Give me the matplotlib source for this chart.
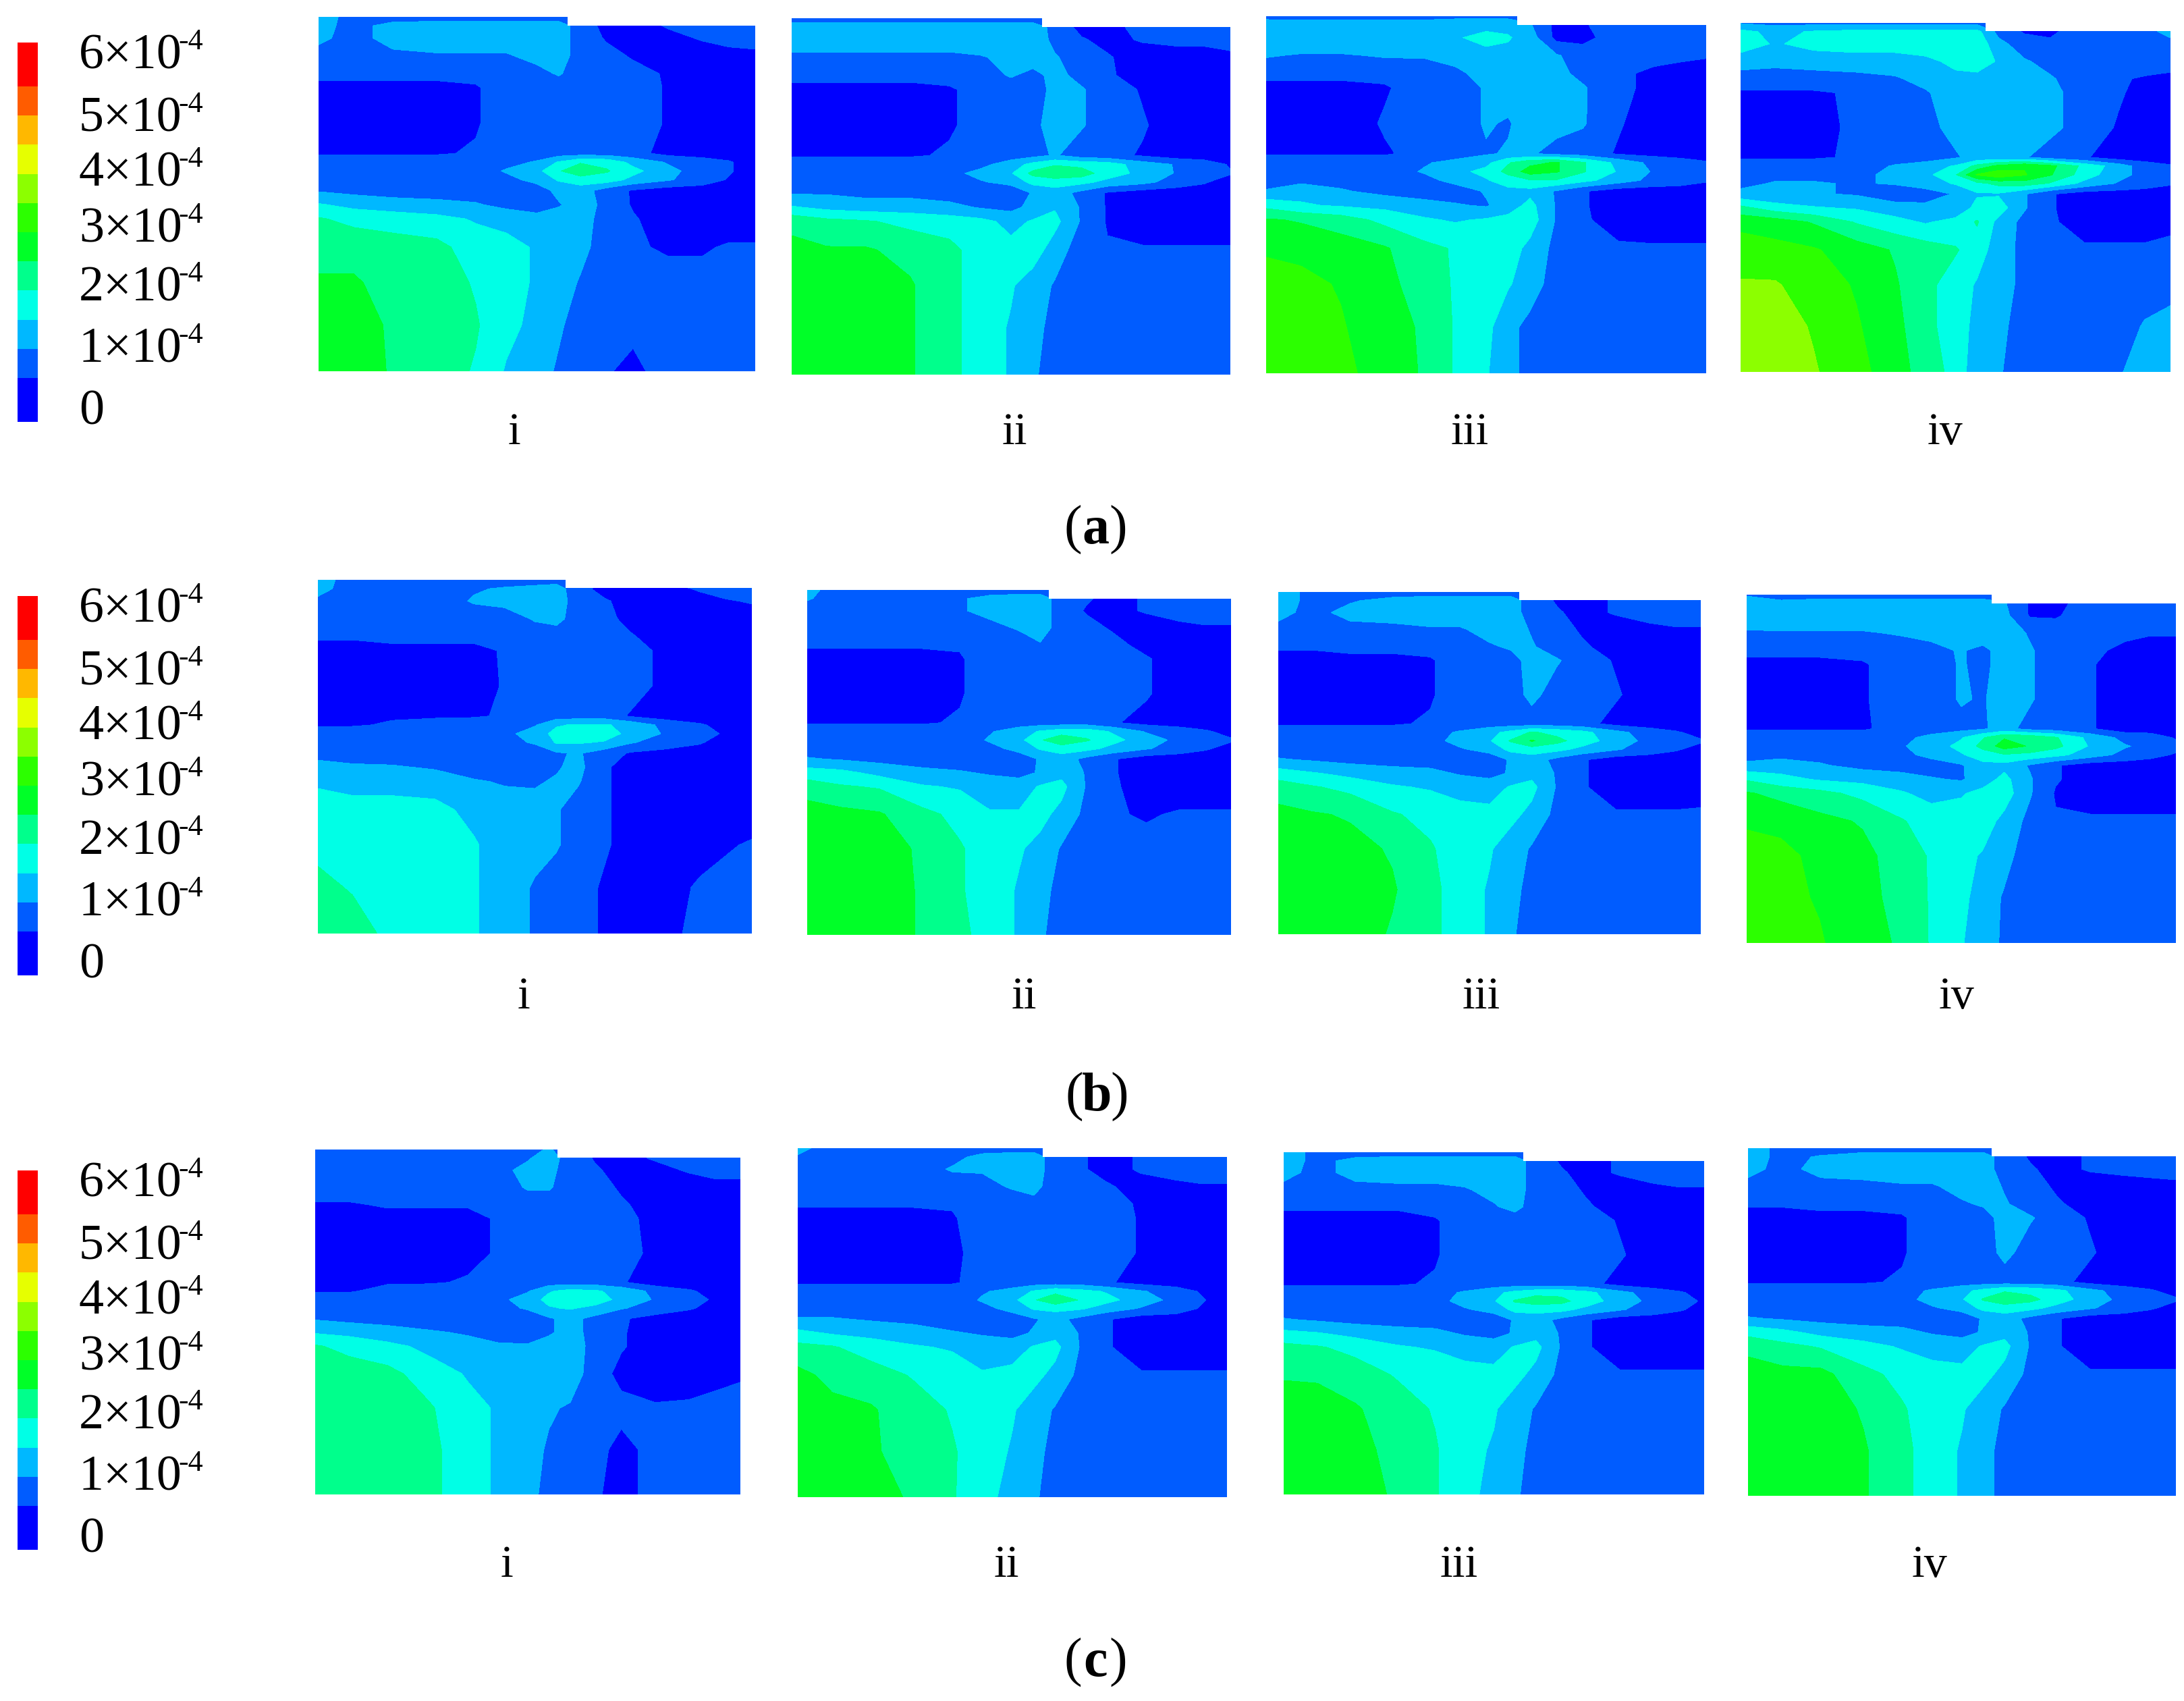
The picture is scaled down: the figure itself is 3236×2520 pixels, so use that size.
import numpy as np
import matplotlib
matplotlib.use("Agg")
import matplotlib.pyplot as plt
from matplotlib.patches import Polygon

plt.rcParams["font.family"] = ["Liberation Serif", "DejaVu Serif"]

W, H = 3237, 2520

# field values in units of 1e-5 at these node positions
X_NODES = [0, .08, .17, .27, .36, .43, .50, .55, .60, .66, .72, .80, .88, .94, 1.0]
Y_NODES = [0, .025, .06, .11, .16, .20, .30, .385, .41, .435, .46, .49, .53, .57, .65, .75, .87, 1.0]

LEVELS = [-5, 2.5, 7.5, 12.5, 17.5, 22.5, 27.5, 32.5, 37.5, 42.5, 47.5, 52.5, 60]
COLORS = ["#0000ff", "#005cff", "#00b8ff", "#00ffe6", "#00ff8c", "#00ff28",
          "#2cff00", "#8cff00", "#e6ff00", "#ffb800", "#ff5c00", "#ff0000"]
BAR_LABELS = ["0", "1", "2", "3", "4", "5", "6"]
PANEL_LABELS = ["i", "ii", "iii", "iv"]
ROW_LABELS = ["a", "b", "c"]

a_i = [
    [12, 4, 4, 4, 4, 4, 4, 5, 5, 1, 0, 2, 4, 5, 5],
    [10, 5, 10, 11, 11, 11, 11, 10, 5, 1, 0, 3, 5, 6, 6],
    [9, 5, 10, 10, 10, 10, 10, 10, 5, 2, 0, 1, 3, 5, 5],
    [5, 5, 6, 7, 7, 7, 9, 10, 5, 4, 2, 0, 0, 0, 1],
    [4, 4, 4, 4, 4, 5, 6, 8, 5, 5, 4, 2, 0, 0, 0],
    [1, 1, 1, 1, 2, 5, 5, 5, 5, 5, 5, 2, 0, 0, 0],
    [0, 0, 0, 0, 2, 5, 5, 6, 6, 6, 5, 2, 0, 0, 0],
    [2, 2, 2, 2, 3, 5, 5, 5, 5, 5, 4, 1, 0, 0, 0],
    [5, 5, 5, 5, 5, 6, 8, 13, 17, 16, 11, 7, 5, 3, 0],
    [5, 5, 5, 5, 5, 8, 11, 17, 21, 18, 14, 9, 5, 3, 0],
    [5, 5, 5, 5, 5, 6, 9, 13, 15, 15, 11, 8, 5, 2, 0],
    [7, 6, 5, 5, 5, 5, 5, 9, 10, 5, 2, 0, 0, 0, 0],
    [13, 11, 10, 9, 8, 6, 4, 7, 10, 6, 2, 0, 0, 0, 0],
    [18, 16, 15, 14, 12, 11, 10, 10, 10, 5, 3, 0, 0, 0, 0],
    [21, 21, 20, 19, 15, 14, 12, 10, 9, 5, 3, 2, 2, 3, 3],
    [23, 23, 21, 20, 17, 14, 12, 10, 7, 5, 4, 4, 4, 4, 4],
    [25, 24, 22, 20, 18, 14, 11, 8, 6, 5, 4, 4, 4, 4, 4],
    [26, 25, 22, 20, 17, 12, 9, 7, 5, 3, 1, 5, 5, 5, 5],
]
a_ii = [
    [6, 5, 5, 5, 5, 5, 5, 5, 5, 3, 1, 3, 4, 5, 5],
    [9, 10, 10, 10, 10, 10, 10, 10, 6, 1, 1, 4, 5, 5, 5],
    [11, 11, 11, 11, 11, 11, 11, 11, 6, 3, 1, 3, 4, 4, 5],
    [6, 6, 6, 6, 6, 7, 9, 10, 8, 5, 3, 0, 0, 0, 1],
    [4, 4, 4, 4, 4, 5, 8, 6, 9, 6, 3, 1, 0, 0, 0],
    [1, 1, 1, 1, 2, 4, 5, 5, 9, 8, 5, 2, 0, 0, 0],
    [0, 0, 0, 0, 2, 4, 5, 6, 10, 8, 5, 3, 0, 0, 0],
    [2, 2, 2, 2, 3, 5, 5, 6, 8, 5, 4, 2, 0, 0, 0],
    [5, 5, 5, 5, 5, 6, 10, 14, 17, 16, 15, 10, 7, 5, 2],
    [5, 5, 5, 5, 6, 9, 12, 19, 21, 20, 15, 11, 7, 5, 3],
    [5, 5, 5, 5, 5, 7, 9, 14, 15, 14, 11, 9, 5, 3, 0],
    [7, 7, 6, 6, 5, 4, 4, 8, 10, 6, 2, 0, 0, 0, 0],
    [13, 11, 10, 10, 9, 7, 6, 9, 12, 7, 2, 0, 0, 0, 0],
    [21, 19, 18, 16, 15, 14, 11, 13, 14, 7, 2, 0, 0, 0, 0],
    [24, 23, 23, 21, 19, 15, 14, 15, 10, 5, 3, 3, 3, 3, 3],
    [26, 26, 25, 23, 19, 15, 13, 10, 7, 5, 4, 4, 4, 4, 4],
    [27, 26, 25, 23, 19, 15, 12, 9, 6, 5, 5, 5, 5, 5, 5],
    [27, 26, 25, 23, 19, 15, 12, 8, 6, 5, 5, 5, 5, 5, 5],
]
a_iii = [
    [6, 5, 5, 5, 5, 6, 6, 6, 6, 4, 2, 5, 5, 5, 5],
    [10, 11, 11, 11, 11, 11, 11, 11, 8, 1, 2, 5, 5, 5, 5],
    [11, 12, 12, 12, 12, 12, 14, 13, 10, 1, 1, 5, 5, 5, 5],
    [8, 7, 7, 8, 8, 10, 11, 11, 10, 8, 5, 5, 5, 4, 3],
    [4, 4, 4, 4, 5, 6, 10, 11, 10, 9, 6, 4, 1, 0, 0],
    [1, 1, 1, 2, 5, 5, 8, 10, 10, 9, 8, 4, 1, 0, 0],
    [0, 0, 0, 3, 5, 5, 8, 7, 10, 9, 8, 3, 0, 0, 0],
    [2, 2, 2, 2, 4, 5, 7, 8, 8, 6, 5, 2, 1, 0, 0],
    [5, 5, 5, 5, 7, 9, 11, 17, 21, 23, 18, 11, 6, 5, 3],
    [5, 5, 5, 5, 8, 11, 14, 19, 25, 23, 18, 12, 7, 5, 4],
    [5, 6, 6, 5, 6, 9, 12, 15, 17, 17, 14, 10, 6, 5, 3],
    [8, 11, 8, 6, 4, 5, 8, 11, 11, 7, 3, 0, 0, 0, 0],
    [16, 13, 12, 11, 10, 8, 7, 10, 14, 7, 3, 0, 0, 0, 0],
    [23, 22, 20, 16, 13, 12, 13, 14, 15, 7, 3, 1, 0, 0, 0],
    [27, 26, 25, 23, 19, 17, 15, 15, 11, 6, 3, 3, 3, 3, 3],
    [29, 29, 27, 24, 20, 17, 14, 13, 10, 5, 4, 4, 4, 4, 4],
    [30, 29, 28, 24, 22, 17, 14, 9, 6, 5, 5, 5, 5, 5, 5],
    [31, 30, 29, 25, 22, 17, 13, 9, 6, 5, 5, 5, 5, 5, 5],
]
a_iv = [
    [7, 6, 6, 6, 6, 6, 6, 6, 6, 2, 2, 3, 4, 5, 6],
    [14, 11, 13, 14, 14, 14, 14, 14, 6, 2, 2, 4, 5, 6, 9],
    [15, 12, 14, 15, 15, 16, 17, 16, 9, 5, 3, 5, 5, 5, 6],
    [10, 9, 10, 10, 10, 11, 14, 15, 12, 8, 6, 5, 5, 5, 5],
    [5, 5, 5, 6, 7, 9, 11, 11, 10, 10, 8, 5, 3, 2, 1],
    [2, 2, 2, 3, 5, 7, 10, 10, 11, 10, 9, 5, 3, 1, 0],
    [0, 0, 0, 4, 5, 6, 9, 10, 10, 10, 9, 5, 2, 0, 0],
    [2, 2, 2, 3, 5, 5, 7, 9, 9, 8, 5, 3, 0, 0, 0],
    [5, 5, 5, 5, 8, 10, 13, 19, 24, 27, 24, 16, 10, 5, 3],
    [5, 6, 6, 6, 9, 11, 17, 28, 31, 28, 23, 15, 9, 6, 4],
    [6, 8, 8, 7, 8, 10, 13, 16, 19, 20, 17, 11, 7, 5, 3],
    [9, 8, 8, 7, 4, 5, 8, 12, 12, 8, 3, 0, 0, 0, 0],
    [19, 15, 13, 12, 10, 9, 9, 14, 15, 8, 3, 0, 0, 0, 0],
    [26, 25, 22, 17, 14, 12, 14, 18, 11, 6, 3, 1, 1, 1, 2],
    [30, 29, 28, 25, 22, 20, 18, 15, 10, 6, 4, 3, 3, 3, 3],
    [33, 33, 30, 27, 23, 19, 15, 12, 10, 6, 5, 5, 5, 5, 6],
    [36, 35, 32, 28, 24, 19, 15, 11, 9, 5, 5, 5, 5, 8, 9],
    [36, 35, 33, 29, 25, 20, 16, 9, 8, 5, 5, 5, 7, 10, 11],
]
b_i = [
    [10, 5, 5, 5, 5, 5, 5, 5, 4, 3, 3, 3, 3, 3, 3],
    [10, 4, 4, 5, 7, 8, 9, 10, 4, 1, 1, 1, 3, 5, 5],
    [6, 5, 5, 5, 8, 9, 10, 10, 5, 3, 1, 0, 1, 2, 3],
    [5, 5, 5, 5, 5, 5, 8, 9, 5, 4, 1, 0, 0, 0, 0],
    [3, 3, 4, 4, 4, 4, 5, 5, 5, 5, 3, 0, 0, 0, 0],
    [1, 1, 1, 1, 1, 3, 5, 5, 5, 5, 5, 1, 0, 0, 0],
    [0, 0, 0, 0, 0, 3, 5, 5, 5, 5, 5, 1, 0, 0, 0],
    [1, 1, 2, 2, 2, 3, 5, 5, 5, 5, 2, 0, 0, 0, 0],
    [2, 2, 3, 4, 5, 5, 7, 12, 13, 13, 11, 6, 3, 1, 0],
    [5, 5, 5, 5, 5, 6, 10, 14, 15, 15, 11, 7, 4, 2, 0],
    [5, 5, 5, 5, 5, 6, 8, 13, 13, 12, 8, 5, 3, 0, 0],
    [6, 6, 5, 5, 5, 5, 5, 7, 8, 5, 2, 1, 0, 0, 0],
    [9, 8, 8, 7, 5, 5, 5, 7, 9, 3, 1, 0, 0, 0, 0],
    [12, 11, 11, 10, 8, 7, 7, 8, 8, 3, 1, 0, 0, 0, 0],
    [14, 14, 14, 14, 11, 10, 9, 8, 5, 3, 1, 0, 0, 0, 0],
    [16, 15, 14, 14, 13, 10, 9, 8, 5, 3, 1, 0, 1, 2, 3],
    [19, 17, 15, 15, 13, 10, 7, 5, 4, 2, 1, 1, 3, 4, 5],
    [22, 20, 16, 15, 13, 10, 7, 5, 4, 2, 1, 1, 4, 5, 5],
]
b_ii = [
    [9, 5, 5, 5, 5, 5, 5, 5, 5, 3, 1, 2, 3, 4, 4],
    [8, 5, 5, 5, 7, 9, 10, 10, 5, 3, 1, 3, 5, 5, 5],
    [5, 5, 5, 5, 7, 9, 10, 10, 5, 2, 1, 3, 5, 5, 5],
    [5, 5, 5, 5, 5, 6, 8, 10, 5, 4, 2, 0, 1, 2, 2],
    [3, 3, 3, 3, 3, 5, 5, 7, 5, 5, 4, 1, 0, 0, 0],
    [1, 1, 1, 1, 2, 5, 5, 5, 5, 5, 5, 3, 0, 0, 0],
    [0, 0, 0, 0, 2, 5, 5, 5, 5, 5, 5, 3, 0, 0, 0],
    [2, 2, 2, 2, 3, 5, 5, 5, 5, 5, 3, 1, 0, 0, 0],
    [5, 5, 5, 5, 5, 7, 10, 13, 15, 15, 12, 7, 5, 3, 1],
    [5, 5, 5, 5, 5, 8, 11, 17, 21, 18, 14, 10, 6, 4, 3],
    [5, 5, 5, 5, 5, 6, 9, 13, 15, 14, 11, 8, 5, 3, 1],
    [8, 7, 6, 5, 5, 5, 5, 8, 10, 6, 3, 0, 0, 0, 0],
    [15, 14, 11, 9, 8, 7, 6, 8, 11, 7, 3, 0, 0, 0, 0],
    [20, 18, 17, 13, 12, 10, 10, 13, 14, 7, 3, 1, 0, 0, 0],
    [25, 24, 23, 19, 16, 13, 13, 14, 11, 6, 3, 2, 3, 3, 3],
    [26, 26, 24, 22, 18, 15, 13, 11, 7, 5, 4, 4, 4, 4, 4],
    [27, 26, 25, 22, 18, 15, 12, 9, 6, 5, 5, 5, 5, 5, 5],
    [27, 26, 25, 22, 19, 15, 12, 8, 6, 5, 5, 5, 5, 5, 5],
]
b_iii = [
    [10, 6, 5, 5, 5, 5, 5, 5, 5, 2, 1, 2, 3, 4, 4],
    [10, 6, 7, 9, 10, 10, 10, 10, 5, 2, 1, 3, 5, 5, 5],
    [9, 6, 9, 10, 10, 10, 10, 10, 5, 3, 1, 3, 5, 5, 5],
    [6, 5, 6, 6, 7, 7, 9, 10, 7, 4, 2, 0, 1, 2, 2],
    [3, 3, 4, 4, 4, 5, 7, 8, 8, 5, 3, 1, 0, 0, 0],
    [1, 1, 1, 1, 2, 5, 5, 6, 9, 8, 5, 2, 0, 0, 0],
    [0, 0, 0, 0, 2, 5, 5, 5, 9, 5, 5, 3, 0, 0, 0],
    [2, 2, 2, 2, 3, 5, 5, 5, 5, 5, 4, 1, 0, 0, 0],
    [5, 5, 5, 5, 6, 8, 11, 14, 18, 16, 14, 9, 5, 3, 1],
    [5, 5, 5, 5, 6, 9, 12, 18, 23, 19, 15, 10, 6, 4, 3],
    [5, 5, 5, 5, 5, 7, 9, 14, 15, 14, 11, 8, 5, 3, 1],
    [8, 7, 6, 5, 5, 5, 5, 8, 10, 6, 3, 0, 0, 0, 0],
    [15, 13, 11, 10, 9, 7, 6, 8, 11, 7, 3, 0, 0, 0, 0],
    [20, 18, 16, 13, 12, 11, 10, 13, 14, 7, 3, 0, 0, 0, 1],
    [24, 23, 22, 18, 16, 14, 14, 14, 11, 6, 3, 3, 3, 3, 3],
    [25, 25, 24, 22, 18, 15, 13, 10, 7, 5, 4, 4, 4, 4, 4],
    [26, 26, 25, 23, 19, 15, 12, 9, 6, 5, 5, 5, 5, 5, 5],
    [26, 26, 25, 22, 19, 15, 12, 8, 6, 5, 5, 5, 5, 5, 5],
]
b_iv = [
    [7, 5, 5, 5, 5, 5, 5, 5, 5, 2, 1, 3, 4, 5, 5],
    [10, 9, 10, 10, 10, 10, 10, 10, 8, 2, 1, 5, 5, 5, 5],
    [10, 11, 11, 11, 11, 11, 11, 11, 9, 2, 2, 5, 5, 5, 5],
    [7, 7, 7, 7, 8, 9, 10, 11, 10, 7, 5, 5, 4, 3, 3],
    [4, 4, 4, 4, 5, 6, 8, 6, 10, 8, 5, 4, 1, 0, 0],
    [1, 1, 1, 2, 5, 5, 8, 6, 10, 8, 5, 3, 0, 0, 0],
    [0, 0, 0, 2, 5, 5, 8, 7, 10, 8, 5, 3, 0, 0, 0],
    [2, 2, 2, 2, 4, 5, 6, 7, 9, 6, 5, 3, 0, 0, 0],
    [5, 5, 5, 5, 6, 9, 12, 17, 22, 21, 18, 11, 6, 5, 2],
    [5, 5, 5, 5, 7, 10, 14, 19, 25, 22, 19, 12, 8, 6, 4],
    [5, 6, 6, 5, 6, 9, 12, 15, 17, 16, 14, 10, 6, 4, 2],
    [9, 10, 8, 6, 5, 5, 7, 11, 11, 7, 3, 0, 0, 0, 0],
    [17, 14, 12, 11, 10, 8, 7, 10, 14, 8, 3, 0, 0, 0, 0],
    [23, 21, 19, 16, 13, 11, 12, 14, 15, 8, 2, 1, 1, 1, 1],
    [27, 26, 24, 22, 18, 15, 15, 15, 11, 6, 3, 3, 3, 3, 3],
    [29, 29, 26, 24, 20, 17, 14, 12, 9, 5, 4, 4, 4, 4, 4],
    [30, 29, 27, 24, 21, 17, 14, 10, 7, 5, 5, 5, 5, 5, 5],
    [30, 29, 28, 24, 22, 17, 13, 9, 7, 5, 5, 5, 5, 5, 5],
]
c_i = [
    [6, 5, 5, 5, 5, 6, 6, 8, 5, 3, 1, 1, 1, 1, 1],
    [5, 5, 5, 5, 5, 6, 7, 10, 5, 2, 1, 3, 5, 5, 5],
    [5, 5, 5, 5, 6, 6, 9, 9, 5, 3, 1, 1, 3, 5, 5],
    [5, 5, 5, 5, 5, 5, 8, 8, 5, 4, 2, 0, 0, 0, 0],
    [2, 2, 3, 3, 3, 4, 5, 5, 5, 5, 3, 1, 0, 0, 0],
    [1, 1, 1, 1, 1, 3, 5, 5, 5, 5, 4, 1, 0, 0, 0],
    [0, 0, 0, 0, 1, 3, 5, 5, 5, 5, 5, 1, 0, 0, 0],
    [1, 1, 2, 2, 3, 4, 5, 5, 5, 5, 3, 0, 0, 0, 0],
    [2, 2, 4, 5, 5, 5, 7, 12, 14, 13, 11, 6, 3, 1, 0],
    [5, 5, 5, 5, 5, 6, 10, 14, 16, 15, 11, 7, 4, 2, 0],
    [5, 5, 5, 5, 5, 6, 8, 12, 13, 11, 8, 5, 3, 1, 0],
    [7, 6, 6, 5, 5, 5, 5, 7, 9, 6, 3, 1, 0, 0, 0],
    [12, 11, 9, 8, 7, 6, 5, 7, 9, 6, 3, 0, 0, 0, 0],
    [18, 16, 14, 11, 9, 8, 8, 9, 11, 5, 3, 0, 0, 0, 0],
    [21, 20, 19, 15, 12, 10, 9, 10, 10, 5, 1, 0, 1, 2, 2],
    [22, 22, 21, 18, 14, 12, 9, 8, 7, 5, 4, 3, 3, 3, 4],
    [22, 22, 21, 19, 14, 12, 9, 7, 6, 4, 1, 4, 5, 5, 5],
    [22, 22, 21, 19, 14, 12, 8, 7, 5, 3, 1, 4, 5, 5, 5],
]
c_ii = [
    [9, 5, 5, 5, 5, 5, 5, 5, 5, 3, 1, 1, 2, 3, 4],
    [7, 5, 5, 5, 6, 9, 10, 10, 5, 3, 1, 3, 5, 5, 5],
    [5, 5, 5, 5, 8, 8, 10, 10, 5, 3, 1, 3, 5, 5, 5],
    [5, 5, 5, 5, 5, 6, 8, 9, 5, 4, 3, 1, 1, 2, 2],
    [3, 3, 3, 3, 3, 5, 5, 6, 5, 5, 4, 2, 0, 0, 0],
    [1, 1, 1, 1, 2, 5, 5, 5, 5, 5, 5, 2, 0, 0, 0],
    [0, 0, 0, 0, 1, 5, 5, 5, 5, 5, 5, 2, 0, 0, 0],
    [2, 2, 2, 2, 2, 4, 5, 5, 5, 5, 3, 1, 0, 0, 0],
    [5, 5, 5, 5, 5, 7, 9, 13, 16, 14, 12, 8, 5, 2, 0],
    [5, 5, 5, 5, 5, 8, 11, 17, 21, 17, 14, 10, 6, 3, 0],
    [5, 5, 5, 5, 5, 6, 9, 13, 14, 13, 10, 7, 5, 2, 0],
    [8, 8, 7, 6, 5, 5, 5, 7, 9, 6, 3, 0, 0, 0, 0],
    [14, 12, 11, 10, 8, 7, 6, 8, 11, 7, 3, 0, 0, 0, 0],
    [19, 18, 15, 13, 12, 10, 10, 13, 14, 7, 3, 0, 0, 0, 0],
    [24, 21, 20, 17, 15, 13, 14, 14, 11, 6, 3, 3, 3, 3, 3],
    [25, 24, 23, 20, 17, 14, 13, 10, 7, 5, 4, 4, 4, 4, 4],
    [26, 25, 23, 21, 18, 15, 12, 9, 6, 5, 5, 5, 5, 5, 5],
    [26, 25, 24, 22, 18, 14, 11, 8, 6, 5, 5, 5, 5, 5, 5],
]
c_iii = [
    [10, 6, 5, 5, 5, 5, 5, 5, 5, 2, 1, 2, 3, 4, 4],
    [10, 6, 9, 10, 10, 10, 10, 10, 5, 2, 1, 3, 5, 5, 5],
    [9, 6, 9, 10, 10, 10, 10, 10, 5, 3, 1, 3, 5, 5, 5],
    [6, 5, 6, 6, 6, 7, 9, 10, 5, 4, 2, 0, 1, 2, 2],
    [3, 3, 3, 3, 4, 5, 7, 9, 5, 5, 3, 1, 0, 0, 0],
    [1, 1, 1, 1, 2, 5, 5, 5, 6, 5, 5, 2, 0, 0, 0],
    [0, 0, 0, 0, 2, 5, 5, 5, 5, 5, 5, 3, 0, 0, 0],
    [2, 2, 2, 2, 3, 5, 5, 5, 5, 5, 4, 1, 0, 0, 0],
    [5, 5, 5, 5, 6, 8, 11, 14, 16, 16, 14, 9, 5, 3, 1],
    [5, 5, 5, 5, 6, 9, 12, 18, 20, 19, 15, 10, 6, 4, 2],
    [5, 5, 5, 5, 5, 7, 9, 14, 14, 14, 11, 8, 5, 3, 1],
    [8, 7, 6, 5, 5, 5, 5, 8, 10, 6, 3, 0, 0, 0, 0],
    [14, 13, 11, 10, 9, 7, 6, 8, 11, 7, 3, 0, 0, 0, 0],
    [19, 18, 16, 13, 12, 11, 10, 13, 14, 7, 3, 0, 0, 0, 0],
    [22, 22, 20, 17, 16, 14, 14, 14, 11, 6, 3, 3, 3, 3, 3],
    [25, 24, 23, 20, 17, 14, 13, 10, 7, 5, 4, 4, 4, 4, 4],
    [26, 25, 24, 21, 18, 14, 12, 9, 6, 5, 5, 5, 5, 5, 5],
    [26, 25, 24, 22, 18, 14, 11, 8, 6, 5, 5, 5, 5, 5, 5],
]
c_iv = [
    [10, 6, 5, 5, 5, 5, 5, 5, 5, 2, 1, 2, 3, 4, 4],
    [10, 6, 8, 10, 10, 10, 10, 10, 5, 2, 1, 3, 5, 5, 5],
    [9, 6, 9, 10, 10, 10, 10, 10, 5, 3, 1, 3, 4, 5, 5],
    [6, 5, 6, 6, 7, 7, 9, 10, 7, 4, 2, 0, 0, 0, 1],
    [3, 3, 4, 4, 4, 5, 7, 8, 8, 5, 3, 1, 0, 0, 0],
    [1, 1, 1, 1, 2, 5, 5, 6, 9, 8, 5, 2, 0, 0, 0],
    [0, 0, 0, 0, 2, 5, 5, 5, 9, 5, 5, 3, 0, 0, 0],
    [2, 2, 2, 2, 3, 5, 5, 5, 5, 5, 4, 1, 0, 0, 0],
    [5, 5, 5, 5, 6, 8, 11, 14, 17, 16, 14, 9, 5, 3, 1],
    [5, 5, 5, 5, 6, 9, 12, 18, 21, 19, 15, 10, 6, 4, 3],
    [5, 5, 5, 5, 5, 7, 9, 14, 15, 14, 11, 8, 5, 3, 1],
    [8, 7, 6, 5, 5, 5, 5, 8, 10, 6, 3, 0, 0, 0, 0],
    [16, 14, 11, 10, 9, 7, 6, 8, 11, 7, 3, 0, 0, 0, 0],
    [21, 19, 17, 14, 12, 11, 10, 13, 14, 7, 3, 0, 0, 0, 0],
    [25, 24, 24, 19, 16, 14, 14, 14, 11, 6, 3, 3, 3, 3, 3],
    [26, 26, 25, 22, 18, 15, 13, 10, 7, 5, 4, 4, 4, 4, 4],
    [27, 26, 25, 23, 19, 15, 12, 9, 6, 5, 5, 5, 5, 5, 5],
    [27, 26, 25, 23, 19, 15, 12, 9, 6, 5, 5, 5, 5, 5, 5],
]

FIELDS = [[a_i, a_ii, a_iii, a_iv], [b_i, b_ii, b_iii, b_iv], [c_i, c_ii, c_iii, c_iv]]

# panel boxes in reference pixels: left, right, top, top of right part, bottom
BOXES = [
    [(472, 1119, 25, 38, 550), (1173, 1823, 27, 40, 555), (1876, 2528, 24, 37, 553), (2579, 3216, 34, 46, 551)],
    [(471, 1114, 859, 871, 1383), (1196, 1824, 874, 887, 1385), (1894, 2520, 877, 889, 1384), (2588, 3224, 881, 894, 1397)],
    [(467, 1097, 1703, 1715, 2214), (1182, 1818, 1701, 1714, 2218), (1902, 2525, 1707, 1720, 2214), (2590, 3224, 1701, 1713, 2216)],
]
LABEL_X = [[762, 1503, 2178, 2882], [776, 1517, 2195, 2899], [751, 1491, 2162, 2859]]
LABEL_Y = [658, 1494, 2336]
TITLE_POS = [(1623, 785), (1625, 1625), (1623, 2463)]
BAR_OFFSET = [0, 820, 1671]
BAR_TICK_Y = [611, 519, 428, 341, 258, 177, 84]

STEP_X = 0.57
PX = 72 / 100


def add_axes_px(left, right, top, bottom):
    return fig.add_axes([left / W, 1 - bottom / H, (right - left) / W, (bottom - top) / H])


def put_text(x, y, s, size_px, **kw):
    fig.text(x / W, 1 - y / H, s, fontsize=size_px * PX, color="black", **kw)


fig = plt.figure(figsize=(W / 100, H / 100), dpi=100, facecolor="white")

for r, row in enumerate(FIELDS):
    for c, field in enumerate(row):
        left, right, top, rtop, bottom = BOXES[r][c]
        ax = add_axes_px(left, right, top, bottom)
        cs = ax.contourf(X_NODES, Y_NODES, np.array(field, dtype=float), levels=LEVELS, colors=COLORS)
        step = (rtop - top) / (bottom - top)
        outline = Polygon([(0, 0), (STEP_X, 0), (STEP_X, step), (1, step), (1, 1), (0, 1)],
                          transform=ax.transData, facecolor="none", edgecolor="none")
        ax.add_patch(outline)
        cs.set_clip_path(outline)
        ax.set_xlim(0, 1)
        ax.set_ylim(1, 0)
        ax.axis("off")
        put_text(LABEL_X[r][c], LABEL_Y[r], PANEL_LABELS[c], 68, ha="center", va="baseline")

    # colour bar
    off = BAR_OFFSET[r]
    bar = add_axes_px(26, 56, 63 + off, 625 + off)
    bar.pcolormesh([0, 1], LEVELS, np.arange(12).reshape(-1, 1), cmap=matplotlib.colors.ListedColormap(COLORS))
    bar.set_ylim(LEVELS[0], LEVELS[-1])
    bar.axis("off")
    for s, y in zip(BAR_LABELS, BAR_TICK_Y):
        if s == "0":
            put_text(117, y + off, s, 74, ha="left", va="center")
        else:
            put_text(117, y + off, s + "\u00d710", 74, ha="left", va="center")
            put_text(264, y + off - 22, "-4", 44, ha="left", va="center")

    # row caption with a bold letter
    tx, ty = TITLE_POS[r]
    put_text(tx - 20, ty, "(", 80, ha="right", va="center")
    put_text(tx, ty, ROW_LABELS[r], 80, ha="center", va="center", fontweight="bold")
    put_text(tx + 20, ty, ")", 80, ha="left", va="center")

fig.savefig("out.png", dpi=100, facecolor="white")
